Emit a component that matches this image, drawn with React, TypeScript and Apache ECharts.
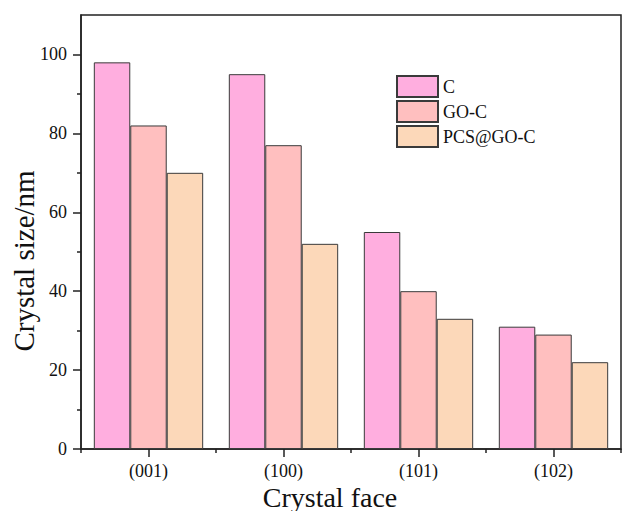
import React, { useEffect, useRef } from "react";
import * as echarts from "echarts";

const categories = ["(001)", "(100)", "(101)", "(102)"];
const seriesNames = ["C", "GO-C", "PCS@GO-C"];
const valuesC = [98, 95, 55, 31];
const valuesGOC = [82, 77, 40, 29];
const valuesPCS = [70, 52, 33, 22];
const yMajorTicks = [0, 20, 40, 60, 80, 100];
const yMinorTicks = [10, 30, 50, 70, 90];
const colors = ["#FFAEDF", "#FFBFBF", "#FCD8B9"];

const FONT = "'Liberation Serif', 'Times New Roman', serif";
const AXIS = "#222222";

export default function App() {
  const ref = useRef<HTMLDivElement>(null);
  useEffect(() => {
    if (!ref.current) return;
    const chart = echarts.init(ref.current, null, { renderer: "svg" });
    const data = [valuesC, valuesGOC, valuesPCS];
    chart.setOption({
      animation: false,
      backgroundColor: "#ffffff",
      grid: {
        left: 81,
        right: 1,
        top: 15,
        bottom: 62,
        containLabel: false,
        show: true,
        borderColor: AXIS,
        borderWidth: 1.5,
        backgroundColor: "transparent",
      },
      legend: {
        orient: "vertical",
        left: 391,
        top: 70,
        itemWidth: 41,
        itemHeight: 21,
        itemGap: 2,
        icon: "rect",
        data: seriesNames,
        textStyle: { fontFamily: FONT, fontSize: 18, color: "#111" },
      },
      xAxis: [
        {
          type: "category",
          position: "bottom",
          data: categories,
          axisLine: { show: true, lineStyle: { color: AXIS, width: 1.5 } },
          axisTick: { show: true, alignWithLabel: true, length: 8, lineStyle: { color: AXIS, width: 1.5 } },
          axisLabel: { fontFamily: FONT, fontSize: 18, color: "#111", margin: 13 },
          splitLine: { show: false },
        },
        {
          type: "category",
          position: "bottom",
          data: categories,
          axisLine: { show: false },
          axisTick: { show: true, alignWithLabel: false, length: 4, lineStyle: { color: AXIS, width: 1.5 } },
          axisLabel: { show: false },
          splitLine: { show: false },
        },
      ],
      yAxis: [
        {
          type: "value",
          position: "left",
          min: 0,
          max: 110,
          axisLine: { show: true, lineStyle: { color: AXIS, width: 1.5 } },
          axisTick: { show: true, length: 8, customValues: yMajorTicks, lineStyle: { color: AXIS, width: 1.5 } },
          axisLabel: { fontFamily: FONT, fontSize: 18, color: "#111", margin: 14, customValues: yMajorTicks },
          splitLine: { show: false },
        },
        {
          type: "value",
          position: "left",
          min: 0,
          max: 110,
          axisLine: { show: false },
          axisTick: { show: true, length: 4, customValues: yMinorTicks, lineStyle: { color: AXIS, width: 1.5 } },
          axisLabel: { show: false },
          splitLine: { show: false },
        },
      ],
      series: seriesNames.map((name, i) => ({
        name,
        type: "bar",
        xAxisIndex: 0,
        yAxisIndex: 0,
        data: data[i],
        barGap: "0%",
        barCategoryGap: "19%",
        itemStyle: { color: colors[i], borderColor: "#3a3a3a", borderWidth: 1 },
      })),
      graphic: [
        {
          type: "text",
          x: 24,
          y: 261,
          rotation: Math.PI / 2,
          style: {
            text: "Crystal size/nm",
            fontFamily: FONT,
            fontSize: 29,
            fill: "#111",
            align: "center",
            verticalAlign: "middle",
          },
        },
        {
          type: "text",
          x: 330,
          y: 497,
          style: {
            text: "Crystal face",
            fontFamily: FONT,
            fontSize: 28,
            fill: "#111",
            align: "center",
            verticalAlign: "middle",
          },
        },
      ],
    });
    return () => chart.dispose();
  }, []);
  return (
    <div
      ref={ref}
      style={{ position: "fixed", left: 0, top: 0, width: 622, height: 511 }}
    />
  );
}
